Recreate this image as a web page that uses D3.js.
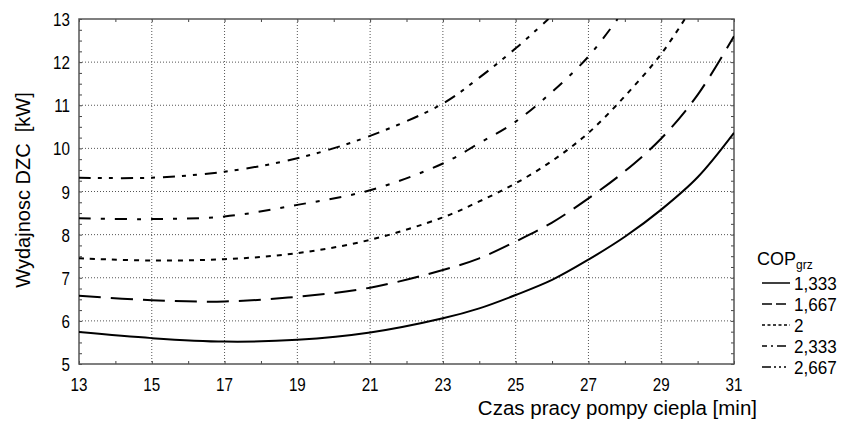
<!DOCTYPE html>
<html>
<head>
<meta charset="utf-8">
<script src="https://cdn.jsdelivr.net/npm/d3@7"></script>
<style>
  body { margin: 0; background: #fff; }
  text { font-family: "Liberation Sans", Arial, sans-serif; fill: #000; }
</style>
</head>
<body>
<svg id="chart" width="844" height="428"></svg>
<script>
// values
const copLabels = ['1,333', '1,667', '2', '2,333', '2,667']
const x1333 = [13, 15, 17, 19, 21, 23, 24, 25, 26, 27, 28, 29, 30, 31]
const y1333 = [5.74, 5.60, 5.52, 5.56, 5.73, 6.06, 6.29, 6.60, 6.95, 7.42, 7.95, 8.58, 9.33, 10.36]
const x1667 = [13, 15, 17, 19, 21, 23, 24, 25, 26, 27, 28, 29, 30, 31]
const y1667 = [6.58, 6.48, 6.45, 6.56, 6.77, 7.18, 7.45, 7.84, 8.28, 8.84, 9.47, 10.23, 11.24, 12.60]
const x2 = [13, 15, 17, 19, 21, 23, 24, 25, 26, 27, 28, 29, 29.65]
const y2 = [7.45, 7.40, 7.43, 7.57, 7.88, 8.40, 8.77, 9.19, 9.71, 10.36, 11.21, 12.19, 13]
const x2333 = [13, 15, 17, 19, 21, 23, 24, 25, 26, 27, 27.8]
const y2333 = [8.38, 8.36, 8.42, 8.69, 9.03, 9.65, 10.12, 10.62, 11.31, 12.13, 13]
const x2667 = [13, 15, 17, 19, 21, 23, 24, 25, 25.9]
const y2667 = [9.32, 9.32, 9.46, 9.77, 10.29, 11.04, 11.64, 12.32, 13]
const xTicks = [13, 15, 17, 19, 21, 23, 25, 27, 29, 31]
const yTicks = [5, 6, 7, 8, 9, 10, 11, 12, 13]

const dashes = [null, '22,10', '5,6', '12,10,4,10', '12,7,4,7,4,8']
const legendDashes = [null, '10,4', '3,2.5', '5,4,2,4,9', '9,3,2,3,2,3,2']

const series = [
  { xs: x1333, ys: y1333 }, { xs: x1667, ys: y1667 }, { xs: x2, ys: y2 },
  { xs: x2333, ys: y2333 }, { xs: x2667, ys: y2667 }
]

const m = { left: 79, top: 19, right: 734, bottom: 364 }
const narrow = 0.8 // the numbers in the picture are condensed
const svg = d3.select('#chart')

const x = d3.scaleLinear().domain([13, 31]).range([m.left, m.right])
const y = d3.scaleLinear().domain([5, 13]).range([m.bottom, m.top])

// dotted grid
const grid = svg.append('g')
grid.selectAll('line.gx')
  .data(xTicks.slice(1, -1))
  .enter().append('line')
  .attr('x1', d => x(d)).attr('x2', d => x(d))
  .attr('y1', m.top).attr('y2', m.bottom)
grid.selectAll('line.gy')
  .data(yTicks.slice(1, -1))
  .enter().append('line')
  .attr('x1', m.left).attr('x2', m.right)
  .attr('y1', d => y(d)).attr('y2', d => y(d))
grid.selectAll('line')
  .attr('stroke', '#555').attr('stroke-width', 1).attr('stroke-dasharray', '1,2')

// inward ticks on all four sides
const minorX = d3.range(13, 31.01, 1)
const minorY = d3.range(5, 13.01, 0.25)
svg.append('g').attr('transform', `translate(0,${m.bottom})`)
  .call(d3.axisTop(x).tickValues(minorX).tickSize(3).tickFormat(''))
svg.append('g').attr('transform', `translate(0,${m.top})`)
  .call(d3.axisBottom(x).tickValues(minorX).tickSize(3).tickFormat(''))
svg.append('g').attr('transform', `translate(${m.left},0)`)
  .call(d3.axisRight(y).tickValues(minorY).tickSize(3).tickFormat(''))
svg.append('g').attr('transform', `translate(${m.right},0)`)
  .call(d3.axisLeft(y).tickValues(minorY).tickSize(3).tickFormat(''))
svg.selectAll('.domain').remove()
svg.selectAll('.tick line').attr('stroke', '#444')

// frame
svg.append('rect')
  .attr('x', m.left).attr('y', m.top)
  .attr('width', m.right - m.left).attr('height', m.bottom - m.top)
  .attr('fill', 'none').attr('stroke', '#555').attr('stroke-width', 1.5)

// tick labels
svg.append('g').selectAll('text')
  .data(xTicks).enter().append('text')
  .attr('transform', d => `translate(${x(d)},${m.bottom + 27}) scale(${narrow},1)`)
  .attr('text-anchor', 'middle').attr('font-size', 19)
  .text(d => d)
svg.append('g').selectAll('text')
  .data(yTicks).enter().append('text')
  .attr('transform', d => `translate(${m.left - 9},${y(d) + 7}) scale(${narrow},1)`)
  .attr('text-anchor', 'end').attr('font-size', 19)
  .text(d => d)

// curves
svg.append('clipPath').attr('id', 'clip')
  .append('rect')
  .attr('x', m.left).attr('y', m.top)
  .attr('width', m.right - m.left).attr('height', m.bottom - m.top)

const line = d3.line()
  .x(d => x(d[0])).y(d => y(d[1]))
  .curve(d3.curveCatmullRom.alpha(0.5))

svg.append('g').attr('clip-path', 'url(#clip)')
  .selectAll('path')
  .data(series).enter().append('path')
  .attr('d', s => line(s.xs.map((v, i) => [v, s.ys[i]])))
  .attr('fill', 'none').attr('stroke', '#000').attr('stroke-width', 2)
  .attr('stroke-dasharray', (s, i) => dashes[i])

// axis titles
svg.append('text')
  .attr('transform', 'translate(30,190) rotate(-90)')
  .attr('text-anchor', 'middle').attr('font-size', 20)
  .style('white-space', 'pre')
  .text('Wydajnosc DZC  [kW]')
svg.append('text')
  .attr('x', 757).attr('y', 415)
  .attr('text-anchor', 'end').attr('font-size', 20.5)
  .text('Czas pracy pompy ciepla [min]')

// legend
const lg = svg.append('g')
const legendTitle = lg.append('text').attr('x', 757).attr('y', 265).attr('font-size', 18)
legendTitle.append('tspan').text('COP')
legendTitle.append('tspan').attr('font-size', 12).attr('dy', 4).text('grz')

const rows = lg.selectAll('g.row')
  .data(copLabels).enter().append('g')
  .attr('transform', (d, i) => `translate(0,${283 + i * 21})`)
rows.append('line')
  .attr('x1', 762).attr('x2', 790).attr('y1', 0).attr('y2', 0)
  .attr('stroke', '#000').attr('stroke-width', 1.5)
  .attr('stroke-dasharray', (d, i) => legendDashes[i])
rows.append('text')
  .attr('transform', 'translate(794,6.5) scale(0.9,1)')
  .attr('font-size', 19)
  .text(d => d)
</script>
</body>
</html>
